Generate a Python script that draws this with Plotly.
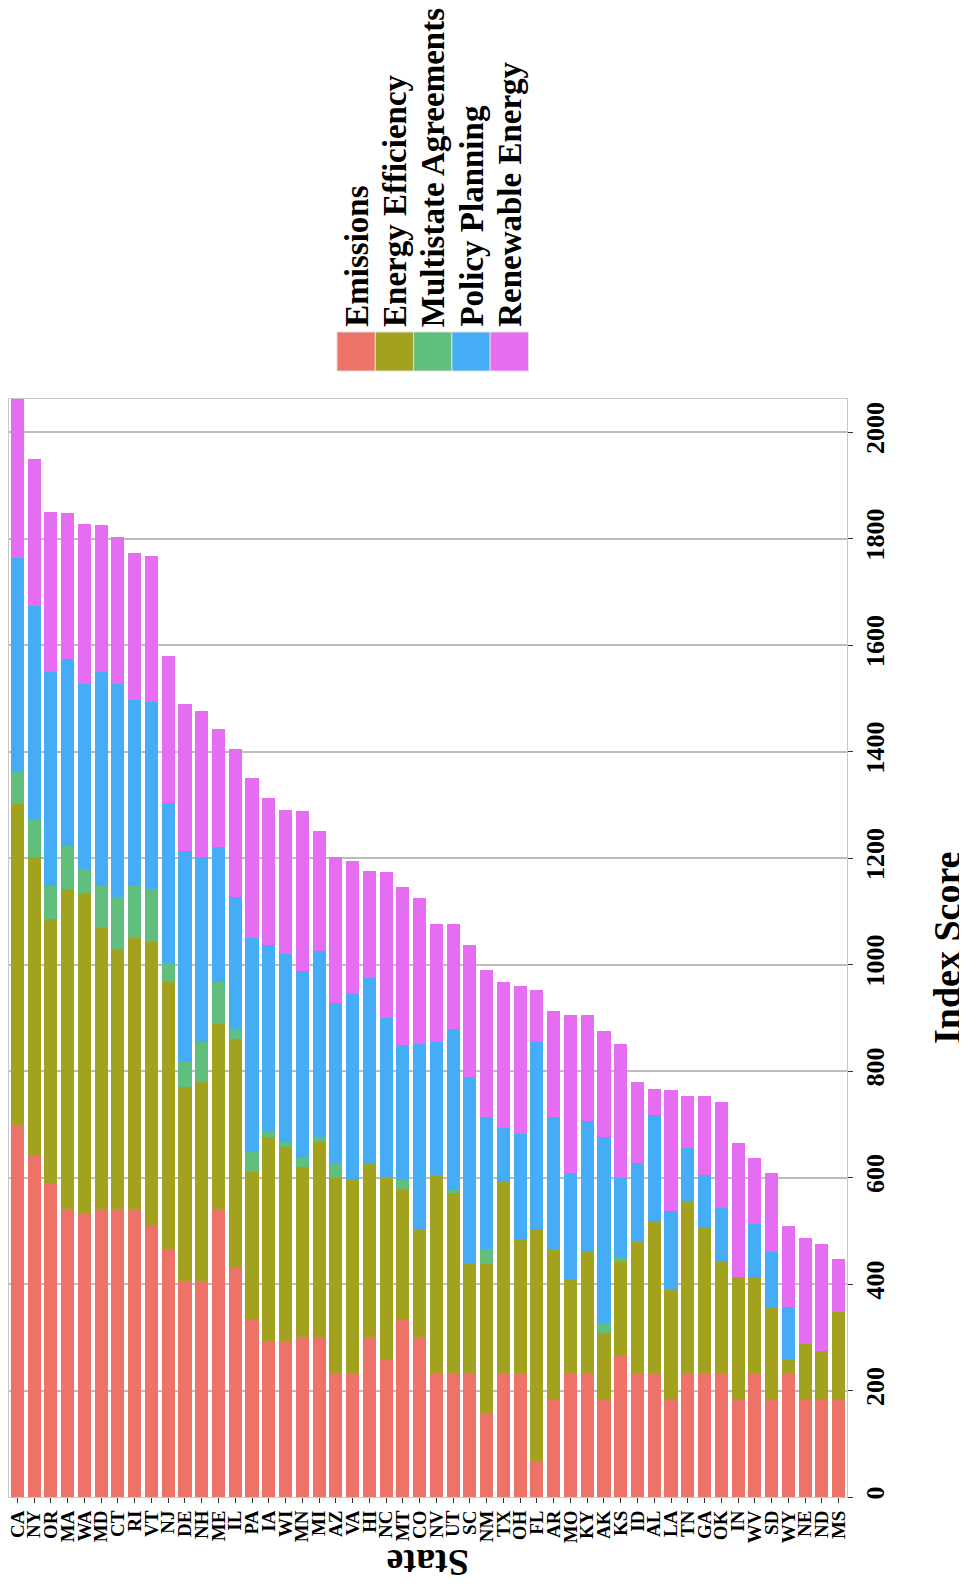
import plotly.graph_objects as go

# Estados em ordem decrescente de pontuação
states = ['CA', 'NY', 'OR', 'MA', 'WA', 'MD', 'CT', 'RI', 'VT', 'NJ',
          'DE', 'NH', 'ME', 'IL', 'PA', 'IA', 'WI', 'MN', 'MI', 'AZ',
          'VA', 'HI', 'NC', 'MT', 'CO', 'NV', 'UT', 'SC', 'NM', 'TX',
          'OH', 'FL', 'AR', 'MO', 'KY', 'AK', 'KS', 'ID', 'AL', 'LA',
          'TN', 'GA', 'OK', 'IN', 'WV', 'SD', 'WY', 'NE', 'ND', 'MS']

emissions = [698, 643, 590, 540, 534, 540, 540, 540, 509, 466,
             406, 406, 540, 431, 332, 292, 292, 301, 301, 232,
             232, 300, 258, 332, 300, 232, 232, 233, 158, 233,
             233, 66, 183, 233, 233, 183, 267, 233, 233, 183,
             233, 233, 233, 183, 233, 183, 233, 183, 183, 183]

energy_efficiency = [603, 558, 496, 602, 599, 528, 488, 509, 534, 502,
                     364, 373, 348, 429, 279, 385, 366, 319, 366, 368,
                     365, 327, 342, 245, 201, 370, 338, 205, 280, 360,
                     252, 437, 280, 174, 227, 125, 174, 245, 286, 205,
                     323, 273, 211, 230, 180, 174, 25, 105, 91, 165]

multistate = [62, 71, 62, 81, 46, 80, 98, 99, 99, 34,
              47, 75, 80, 18, 37, 8, 9, 16, 10, 27,
              0, 0, 0, 19, 0, 0, 7, 0, 27, 0,
              0, 0, 0, 0, 0, 18, 9, 0, 0, 0,
              0, 0, 0, 0, 0, 0, 0, 0, 0, 0]

policy_planning = [400, 401, 401, 351, 348, 401, 401, 348, 351, 302,
                   396, 347, 252, 249, 402, 352, 352, 351, 348, 301,
                   347, 348, 300, 252, 350, 252, 301, 350, 249, 100,
                   197, 351, 251, 201, 247, 351, 149, 149, 198, 149,
                   99, 99, 99, 0, 99, 103, 99, 0, 0, 0]

renewable = [299, 276, 301, 273, 301, 276, 276, 276, 274, 276,
             277, 276, 223, 277, 300, 276, 272, 301, 226, 273,
             250, 201, 274, 298, 273, 223, 199, 249, 276, 275,
             277, 99, 199, 298, 199, 198, 252, 152, 50, 227,
             99, 149, 199, 252, 125, 148, 152, 199, 201, 99]

categories = ['Emissions', 'Energy Efficiency', 'Multistate Agreements',
              'Policy Planning', 'Renewable Energy']
series = [emissions, energy_efficiency, multistate, policy_planning, renewable]
COLORS = ['#ED7369', '#A3A21F', '#60BF7D', '#44ADF5', '#E66CF1']

FONT = 'Liberation Serif, Times New Roman, serif'

# a página tem margem de 8px no body: a figura começa em (8, 8)
OFF = 8
W, H = 967 - OFF, 1587 - OFF
L, R, T, B = 1, 120, 391, 90
PW, PH = W - L - R, H - T - B


def px(x):
    # x em pixels da página -> coordenada paper
    return (x - OFF - L) / PW


def py(y):
    return (H - B - (y - OFF)) / PH


fig = go.Figure()
for name, vals, col in zip(categories, series, COLORS):
    fig.add_trace(go.Bar(x=states, y=vals, name=name, marker_color=col,
                         marker_line_width=0, showlegend=False))

totals = [sum(v) for v in zip(*series)]

fig.update_layout(
    width=W, height=H,
    margin=dict(l=L, r=R, t=T, b=B, autoexpand=False),
    barmode='stack', bargap=0.22,
    plot_bgcolor='white', paper_bgcolor='white',
    font=dict(family=FONT, color='black'),
    xaxis=dict(tickangle=-90, tickmode='linear', dtick=1,
               ticks='outside', ticklen=5, tickcolor='#333333',
               tickfont=dict(family=FONT, size=19, weight='bold', color='black'),
               showgrid=False, showline=True, mirror=True, linecolor='#c8c8c8',
               linewidth=1),
    yaxis=dict(side='right', range=[0, max(totals)], dtick=200,
               tickangle=-90, ticks='outside', ticklen=5, tickcolor='#333333',
               tickfont=dict(family=FONT, size=26, weight='bold', color='black'),
               showgrid=True, gridcolor='#bdbdbd', gridwidth=1.5, zeroline=False,
               showline=True, mirror=True, linecolor='#c8c8c8', linewidth=1),
)

# Títulos dos eixos
fig.add_annotation(text='Index Score', x=px(947), y=py(948), xref='paper', yref='paper',
                   textangle=-90, showarrow=False, xanchor='center', yanchor='middle',
                   font=dict(family=FONT, size=38, weight='bold', color='black'))
fig.add_annotation(text='State', x=px(428), y=py(1563), xref='paper', yref='paper',
                   textangle=180, showarrow=False, xanchor='center', yanchor='middle',
                   font=dict(family=FONT, size=38, weight='bold', color='black'))

# Legenda manual (texto rotacionado)
key_x0, key_w, key_y0, key_y1 = 337, 38.3, 332, 371
for i, (name, col) in enumerate(zip(categories, COLORS)):
    x0 = key_x0 + i * key_w
    fig.add_shape(type='rect', xref='paper', yref='paper',
                  x0=px(x0), x1=px(x0 + key_w), y0=py(key_y1), y1=py(key_y0),
                  fillcolor=col, line=dict(color='#dddddd', width=1))
    fig.add_annotation(text=name, x=px(x0 + key_w / 2), y=py(key_y0 - 3),
                       xref='paper', yref='paper', textangle=-90, showarrow=False,
                       xanchor='center', yanchor='bottom',
                       font=dict(family=FONT, size=33, weight='bold', color='black'))

fig.write_html('out.html')
